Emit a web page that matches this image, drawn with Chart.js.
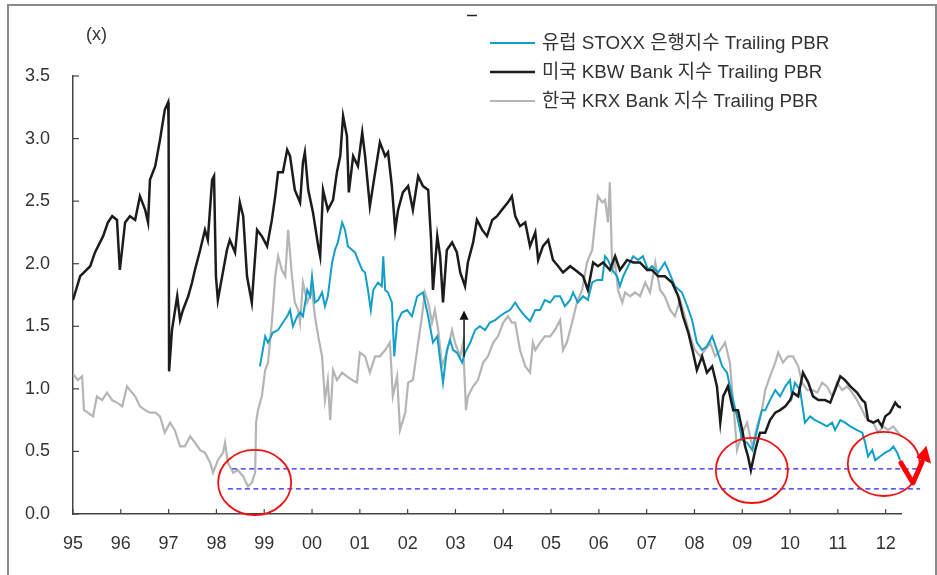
<!DOCTYPE html>
<html><head><meta charset="utf-8">
<script src="https://cdn.jsdelivr.net/npm/chart.js@4.4.1/dist/chart.umd.min.js"></script>
<style>
html,body{margin:0;padding:0;background:#fff;}
#wrap{position:relative;width:937px;height:575px;overflow:hidden;}
canvas{display:block;}
</style></head><body>
<div id="wrap"><canvas id="c" width="937" height="575"></canvas></div>
<script>
// ---- axis ticks ----
const tickYears = [1995,1996,1997,1998,1999,2000,2001,2002,2003,2004,2005,2006,2007,2008,2009,2010,2011,2012];
const yTicks = [0,0.5,1.0,1.5,2.0,2.5,3.0,3.5];
const seriesNames = ['유럽 STOXX 은행지수 Trailing PBR','미국 KBW Bank 지수 Trailing PBR','한국 KRX Bank 지수 Trailing PBR'];
const unitLabel = '(x)';

// ---- US KBW Bank ----
const kbwYears = [1995.00,1995.15,1995.36,1995.46,1995.63,1995.73,1995.82,1995.92,1995.98,1996.09,
1996.19,1996.30,1996.40,1996.51,1996.57,1996.61,1996.72,1996.82,1996.92,1996.99,
1997.00,1997.01,1997.07,1997.18,1997.24,1997.30,1997.41,1997.49,1997.55,1997.66,
1997.76,1997.82,1997.91,1997.95,1997.99,1998.03,1998.12,1998.22,1998.28,1998.39,
1998.49,1998.56,1998.64,1998.74,1998.77,1998.85,1998.95,1999.06,1999.16,1999.23,
1999.29,1999.39,1999.48,1999.54,1999.64,1999.75,1999.81,1999.85,1999.92,2000.02,
2000.13,2000.17,2000.23,2000.33,2000.44,2000.52,2000.59,2000.65,2000.73,2000.77,
2000.86,2000.96,2001.05,2001.11,2001.21,2001.32,2001.42,2001.53,2001.59,2001.67,
2001.74,2001.80,2001.90,2002.01,2002.11,2002.22,2002.32,2002.43,2002.49,2002.53,
2002.62,2002.68,2002.74,2002.82,2002.93,2003.03,2003.10,2003.20,2003.26,2003.37,
2003.45,2003.56,2003.66,2003.77,2003.87,2003.97,2004.10,2004.18,2004.25,2004.35,
2004.46,2004.56,2004.67,2004.73,2004.83,2004.94,2005.04,2005.15,2005.25,2005.40,
2005.54,2005.67,2005.77,2005.88,2005.98,2006.09,2006.23,2006.34,2006.44,2006.59,
2006.72,2006.86,2007.01,2007.11,2007.24,2007.38,2007.53,2007.66,2007.76,2007.87,
2007.97,2008.05,2008.16,2008.26,2008.37,2008.47,2008.54,2008.60,2008.70,2008.81,
2008.91,2009.00,2009.06,2009.12,2009.18,2009.27,2009.37,2009.48,2009.58,2009.69,
2009.79,2009.90,2010.00,2010.06,2010.17,2010.27,2010.38,2010.48,2010.59,2010.73,
2010.84,2010.94,2011.05,2011.15,2011.26,2011.40,2011.51,2011.57,2011.63,2011.74,
2011.84,2011.92,2011.99,2012.09,2012.20,2012.26,2012.34];
const kbwValues = [1.71,1.90,1.98,2.09,2.22,2.33,2.38,2.35,1.95,2.33,
2.38,2.35,2.54,2.43,2.33,2.67,2.78,2.99,3.23,3.29,
3.10,1.14,1.47,1.74,1.55,1.63,1.74,1.85,1.95,2.11,
2.27,2.19,2.67,2.70,1.90,1.71,1.90,2.11,2.19,2.09,
2.49,2.38,1.90,1.69,1.85,2.27,2.22,2.14,2.35,2.54,
2.73,2.73,2.91,2.86,2.59,2.49,2.81,2.89,2.59,2.41,
2.14,2.06,2.59,2.43,2.51,2.73,2.86,3.18,3.02,2.57,
2.86,2.78,3.05,2.86,2.46,2.73,2.97,2.86,2.89,2.62,
2.27,2.43,2.57,2.62,2.43,2.70,2.62,2.59,2.19,1.79,
2.22,2.06,1.69,2.11,2.17,2.09,1.93,1.82,2.01,2.17,
2.35,2.27,2.22,2.35,2.38,2.43,2.49,2.54,2.38,2.30,
2.33,2.14,2.25,2.03,2.14,2.19,2.03,1.98,1.93,1.98,
1.94,1.90,1.79,2.01,1.98,2.01,1.95,2.06,1.95,2.03,
2.01,2.01,1.95,1.95,1.90,1.90,1.85,1.74,1.58,1.45,
1.29,1.15,1.26,1.13,1.18,1.02,0.73,0.94,1.02,0.83,
0.83,0.67,0.54,0.46,0.35,0.51,0.65,0.65,0.75,0.81,
0.83,0.86,0.91,0.97,0.94,1.13,1.05,0.94,0.91,0.91,
0.89,0.99,1.10,1.07,1.02,0.97,0.91,0.89,0.75,0.73,
0.75,0.70,0.78,0.81,0.89,0.86,0.85];

// ---- Europe STOXX Banks ----
const stoxxYears = [1998.91,1998.97,1999.02,1999.08,1999.18,1999.29,1999.39,1999.48,1999.54,1999.60,
1999.69,1999.75,1999.81,1999.90,1999.96,2000.00,2000.06,2000.13,2000.21,2000.27,
2000.33,2000.42,2000.48,2000.54,2000.63,2000.69,2000.75,2000.84,2000.90,2000.96,
2001.05,2001.11,2001.17,2001.23,2001.28,2001.38,2001.46,2001.49,2001.53,2001.59,
2001.67,2001.72,2001.78,2001.88,2001.99,2002.09,2002.20,2002.32,2002.43,2002.53,
2002.62,2002.68,2002.74,2002.82,2002.89,2002.95,2003.03,2003.14,2003.20,2003.31,
2003.41,2003.51,2003.62,2003.72,2003.83,2003.93,2004.04,2004.14,2004.25,2004.35,
2004.46,2004.56,2004.67,2004.77,2004.87,2004.98,2005.08,2005.19,2005.29,2005.40,
2005.46,2005.56,2005.67,2005.77,2005.86,2005.96,2006.07,2006.13,2006.19,2006.28,
2006.38,2006.44,2006.51,2006.61,2006.72,2006.82,2006.92,2006.97,2007.03,2007.11,
2007.24,2007.38,2007.45,2007.59,2007.74,2007.85,2007.95,2008.05,2008.16,2008.26,
2008.37,2008.47,2008.58,2008.68,2008.79,2008.89,2009.00,2009.10,2009.21,2009.31,
2009.41,2009.48,2009.58,2009.69,2009.79,2009.90,2010.00,2010.04,2010.10,2010.21,
2010.31,2010.42,2010.52,2010.63,2010.77,2010.88,2010.94,2011.05,2011.15,2011.26,
2011.40,2011.51,2011.57,2011.63,2011.72,2011.78,2011.88,2011.99,2012.09,2012.16,
2012.24,2012.30];
const stoxxValues = [1.18,1.31,1.42,1.37,1.45,1.47,1.53,1.58,1.63,1.50,
1.58,1.61,1.58,1.79,1.74,1.90,1.69,1.71,1.77,1.66,
1.74,2.01,2.11,2.17,2.33,2.27,2.14,2.11,2.09,2.03,
1.95,1.93,1.79,1.63,1.79,1.85,1.82,2.06,1.79,1.77,
1.69,1.26,1.53,1.61,1.63,1.58,1.74,1.77,1.58,1.37,
1.42,1.23,1.05,1.31,1.39,1.31,1.29,1.21,1.29,1.37,
1.47,1.50,1.47,1.53,1.55,1.58,1.61,1.63,1.69,1.63,
1.58,1.54,1.63,1.63,1.71,1.69,1.74,1.74,1.66,1.71,
1.77,1.69,1.74,1.71,1.85,1.87,1.87,2.06,2.03,1.95,
1.90,1.82,1.90,1.98,2.06,2.03,2.06,2.01,1.95,1.98,
1.93,2.01,1.95,1.82,1.77,1.66,1.55,1.37,1.31,1.34,
1.42,1.31,1.18,1.13,0.94,0.78,0.59,0.57,0.51,0.67,
0.83,0.83,0.91,0.99,0.94,1.02,1.07,0.94,1.05,0.99,
0.73,0.78,0.75,0.73,0.70,0.73,0.67,0.75,0.73,0.70,
0.67,0.65,0.57,0.46,0.51,0.43,0.46,0.49,0.51,0.54,
0.49,0.43];

// ---- Korea KRX Bank ----
const krxYears = [1995.00,1995.10,1995.19,1995.23,1995.31,1995.42,1995.50,1995.61,1995.71,1995.82,
1995.92,1996.03,1996.13,1996.19,1996.30,1996.40,1996.51,1996.61,1996.72,1996.82,
1996.92,1997.03,1997.13,1997.24,1997.34,1997.45,1997.55,1997.66,1997.76,1997.87,
1997.93,1998.03,1998.14,1998.18,1998.24,1998.35,1998.45,1998.56,1998.66,1998.74,
1998.81,1998.83,1998.87,1998.95,1999.02,1999.08,1999.16,1999.23,1999.29,1999.37,
1999.44,1999.50,1999.58,1999.64,1999.71,1999.75,1999.81,1999.90,2000.00,2000.06,
2000.13,2000.21,2000.27,2000.33,2000.38,2000.44,2000.52,2000.63,2000.73,2000.84,
2000.94,2001.00,2001.11,2001.21,2001.32,2001.42,2001.53,2001.63,2001.69,2001.78,
2001.84,2001.95,2002.01,2002.11,2002.22,2002.30,2002.36,2002.43,2002.51,2002.57,
2002.64,2002.72,2002.82,2002.93,2002.99,2003.10,2003.16,2003.22,2003.26,2003.37,
2003.47,2003.58,2003.68,2003.79,2003.89,2004.00,2004.10,2004.18,2004.25,2004.35,
2004.46,2004.56,2004.62,2004.67,2004.77,2004.87,2004.98,2005.08,2005.19,2005.25,
2005.33,2005.44,2005.54,2005.65,2005.75,2005.86,2005.92,2005.98,2006.07,2006.13,
2006.19,2006.23,2006.28,2006.34,2006.40,2006.49,2006.55,2006.65,2006.76,2006.86,
2006.97,2007.07,2007.18,2007.28,2007.38,2007.49,2007.59,2007.70,2007.80,2007.91,
2008.01,2008.12,2008.22,2008.33,2008.43,2008.54,2008.64,2008.74,2008.81,2008.89,
2009.00,2009.10,2009.21,2009.31,2009.41,2009.48,2009.58,2009.69,2009.75,2009.85,
2009.96,2010.06,2010.17,2010.25,2010.36,2010.46,2010.57,2010.67,2010.77,2010.88,
2010.98,2011.09,2011.19,2011.30,2011.40,2011.51,2011.57,2011.63,2011.74,2011.84,
2011.95,2012.05,2012.16,2012.26,2012.34];
const krxValues = [1.12,1.07,1.10,0.83,0.81,0.78,0.94,0.91,0.97,0.91,
0.89,0.86,1.02,0.99,0.94,0.86,0.83,0.81,0.81,0.78,
0.65,0.73,0.67,0.54,0.54,0.62,0.57,0.51,0.49,0.41,
0.33,0.43,0.49,0.57,0.41,0.33,0.35,0.30,0.22,0.25,
0.33,0.73,0.83,0.94,1.15,1.21,1.53,1.90,2.06,1.95,
1.90,2.27,1.90,1.69,1.63,1.53,1.85,1.69,1.79,1.58,
1.42,1.26,0.91,1.07,0.75,1.15,1.07,1.13,1.10,1.07,
1.05,1.29,1.26,1.13,1.26,1.26,1.31,1.37,0.94,1.10,
0.67,0.81,1.05,1.07,1.37,1.58,1.77,1.69,1.53,1.63,
1.47,1.18,1.29,1.47,1.37,1.26,1.37,0.83,0.94,1.02,
1.07,1.21,1.26,1.37,1.42,1.53,1.58,1.53,1.53,1.31,
1.18,1.13,1.37,1.31,1.37,1.42,1.42,1.47,1.55,1.31,
1.37,1.53,1.69,1.79,2.01,2.11,2.33,2.54,2.49,2.51,
2.33,2.65,1.95,2.01,1.79,1.69,1.77,1.74,1.77,1.74,
1.85,1.77,2.01,1.79,1.74,1.63,1.58,1.71,1.58,1.42,
1.31,1.26,1.31,1.37,1.26,1.31,1.37,1.21,0.89,0.51,
0.65,0.73,0.54,0.70,0.83,0.99,1.10,1.21,1.29,1.21,
1.26,1.26,1.18,1.05,0.99,0.99,0.97,1.05,1.02,0.94,
1.05,0.99,1.02,0.97,0.91,0.83,0.78,0.75,0.73,0.65,
0.70,0.67,0.70,0.65,0.62];

// ---- annotation marks, in data units ----
const circleCenters = [[1998.80,0.252],[2009.20,0.348],[2011.96,0.40]];
const circleRadii = [[0.764,0.26],[0.753,0.26],[0.753,0.256]];
const refLines = [[0.36,1998.33,2012.72],[0.20,1998.24,2012.72]];
const redArrow = [[2012.32,0.408],[2012.57,0.248],[2012.76,0.416]];
const redHead = [[2012.64,0.452],[2012.95,0.404],[2012.85,0.545]];
const blackArrow = [2003.18,1.256,1.552,1.626];

const FONT = '"Liberation Sans", Arial, "Noto Sans CJK KR", sans-serif';
const colors = ['#129fc7','#1c1c1c','#b5b5b5'];

function pts(xs, ys){ return xs.map((x,i)=>({x:x, y:ys[i]})); }

const decor = {
  id:'decor',
  beforeDraw(chart){
    const ctx = chart.ctx; ctx.save(); ctx.fillStyle='#fff'; ctx.fillRect(0,0,chart.width,chart.height); ctx.restore();
  },
  afterDraw(chart){
    const ctx = chart.ctx, xs = chart.scales.x, ys = chart.scales.y;
    const X = v => xs.getPixelForValue(v), Y = v => ys.getPixelForValue(v);
    ctx.save();
    // outer frame
    ctx.strokeStyle = '#8a8a8a'; ctx.lineWidth = 2;
    ctx.beginPath(); ctx.moveTo(8,580); ctx.lineTo(8,5); ctx.lineTo(936,5); ctx.lineTo(936,580); ctx.stroke();
    // inward tick marks
    ctx.strokeStyle = '#444'; ctx.lineWidth = 1.2;
    yTicks.forEach(v => { const p = Y(v); ctx.beginPath(); ctx.moveTo(xs.left, p); ctx.lineTo(xs.left+6, p); ctx.stroke(); });
    tickYears.forEach(v => { const p = X(v); ctx.beginPath(); ctx.moveTo(p, ys.bottom); ctx.lineTo(p, ys.bottom-5); ctx.stroke(); });
    // unit label
    ctx.fillStyle = '#333'; ctx.font = '18px ' + FONT; ctx.textBaseline = 'middle'; ctx.textAlign = 'left';
    ctx.fillText(unitLabel, 86, 35);
    // stray mark at top
    ctx.strokeStyle = '#222'; ctx.lineWidth = 1.5;
    ctx.beginPath(); ctx.moveTo(467,15.5); ctx.lineTo(477,15.5); ctx.stroke();
    // legend
    const ly = [43,72,101], lw = [2,2.5,2];
    seriesNames.forEach((n,i) => {
      ctx.strokeStyle = colors[i]; ctx.lineWidth = lw[i];
      ctx.beginPath(); ctx.moveTo(490, ly[i]); ctx.lineTo(535, ly[i]); ctx.stroke();
      ctx.fillStyle = '#333'; ctx.font = '18.8px ' + FONT; ctx.textBaseline = 'middle';
      ctx.fillText(n, 542, ly[i]+1);
    });
    // blue dashed reference lines
    ctx.strokeStyle = '#2222ee'; ctx.lineWidth = 1.3; ctx.setLineDash([5,3.5]);
    refLines.forEach(r => { ctx.beginPath(); ctx.moveTo(X(r[1]), Y(r[0])); ctx.lineTo(X(r[2]), Y(r[0])); ctx.stroke(); });
    ctx.setLineDash([]);
    // red ellipses
    ctx.strokeStyle = '#ee1111'; ctx.lineWidth = 1.8;
    circleCenters.forEach((c,i) => {
      const cx = X(c[0]), cy = Y(c[1]);
      const rx = X(c[0]+circleRadii[i][0]) - cx, ry = cy - Y(c[1]+circleRadii[i][1]);
      ctx.beginPath(); ctx.ellipse(cx, cy, rx, ry, 0, 0, Math.PI*2); ctx.stroke();
    });
    // red check arrow
    ctx.strokeStyle = '#f00'; ctx.fillStyle = '#f00'; ctx.lineWidth = 5; ctx.lineJoin = 'round'; ctx.lineCap = 'round';
    ctx.beginPath(); redArrow.forEach((p,i) => { i ? ctx.lineTo(X(p[0]),Y(p[1])) : ctx.moveTo(X(p[0]),Y(p[1])); }); ctx.stroke();
    ctx.beginPath(); redHead.forEach((p,i) => { i ? ctx.lineTo(X(p[0]),Y(p[1])) : ctx.moveTo(X(p[0]),Y(p[1])); }); ctx.closePath(); ctx.fill();
    // black arrow
    const ax = X(blackArrow[0]);
    ctx.strokeStyle = '#111'; ctx.fillStyle = '#111'; ctx.lineWidth = 1.5; ctx.lineCap = 'butt';
    ctx.beginPath(); ctx.moveTo(ax, Y(blackArrow[1])); ctx.lineTo(ax, Y(blackArrow[2])); ctx.stroke();
    ctx.beginPath(); ctx.moveTo(ax-4.5, Y(blackArrow[2])); ctx.lineTo(ax+4.5, Y(blackArrow[2])); ctx.lineTo(ax, Y(blackArrow[3])); ctx.closePath(); ctx.fill();
    ctx.restore();
  }
};

new Chart(document.getElementById('c'), {
  type: 'line',
  data: {
    datasets: [
      {label: seriesNames[1], data: pts(kbwYears, kbwValues), borderColor: colors[1], borderWidth: 2.5, order: 0},
      {label: seriesNames[0], data: pts(stoxxYears, stoxxValues), borderColor: colors[0], borderWidth: 2, order: 1},
      {label: seriesNames[2], data: pts(krxYears, krxValues), borderColor: colors[2], borderWidth: 2.2, order: 2}
    ]
  },
  options: {
    responsive: false, animation: false, devicePixelRatio: 1, events: [],
    elements: { point: { radius: 0 }, line: { tension: 0, fill: false } },
    layout: { padding: { left: 0, right: 36, top: 76, bottom: 0 } },
    plugins: { legend: { display: false }, tooltip: { enabled: false } },
    scales: {
      x: {
        type: 'linear', min: 1995, max: 2012.32,
        afterBuildTicks: s => { s.ticks = tickYears.map(v => ({value: v})); },
        afterFit: s => { s.height = 61; },
        grid: { display: false },
        border: { display: true, color: '#444', width: 1.5 },
        ticks: { autoSkip: false, maxRotation: 0, padding: 11, color: '#333', font: { family: FONT, size: 18 },
          callback: v => String(v % 100).padStart(2, '0') }
      },
      y: {
        type: 'linear', min: 0, max: 3.5,
        afterBuildTicks: s => { s.ticks = yTicks.map(v => ({value: v})); },
        afterFit: s => { s.width = 73; },
        grid: { display: false },
        border: { display: true, color: '#444', width: 1.5 },
        ticks: { padding: 15, color: '#333', font: { family: FONT, size: 18 }, callback: v => v.toFixed(1) }
      }
    }
  },
  plugins: [decor]
});
</script>
</body></html>
